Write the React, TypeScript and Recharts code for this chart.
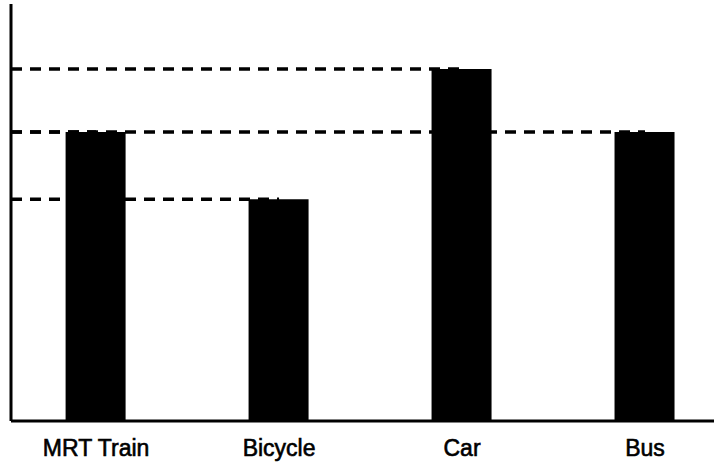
import React from 'react';
import { BarChart, Bar, XAxis, YAxis, ReferenceLine } from 'recharts';

const modes = ['MRT Train', 'Bicycle', 'Car', 'Bus'];
const shares = [69.3, 53.2, 84.4, 69.3];
const positions = [1, 2, 3, 4];
const xDomain: [number, number] = [0.535, 4.377];

const data = modes.map((name, i) => ({ name, pos: positions[i], value: shares[i] }));

export default function App() {
  return (
    <div style={{ position: 'absolute', left: 0, top: 0, width: 714, height: 465, background: '#fff', overflow: 'hidden' }}>
      <BarChart width={714} height={465} data={data} margin={{ top: 4, right: 0, left: 0, bottom: 0 }}>
        <XAxis
          dataKey="pos"
          type="number"
          domain={xDomain}
          ticks={positions}
          tickFormatter={(v: number) => modes[positions.indexOf(v)] ?? ''}
          height={44}
          tickLine={false}
          tickMargin={13}
          axisLine={{ stroke: '#000', strokeWidth: 3 }}
          tick={{ fontSize: 23, fill: '#000', stroke: '#000', strokeWidth: 0.6, fontFamily: 'Liberation Sans, Arial, sans-serif' }}
        />
        <YAxis domain={[0, 100]} width={11} tick={false} tickLine={false} axisLine={{ stroke: '#000', strokeWidth: 3 }} />
        {data.map(d => (
          <ReferenceLine
            key={d.name}
            segment={[{ x: xDomain[0], y: d.value }, { x: d.pos, y: d.value }]}
            stroke="#000"
            strokeWidth={3.5}
            strokeDasharray="11 8"
            ifOverflow="visible"
          />
        ))}
        <Bar dataKey="value" fill="#000" barSize={60} isAnimationActive={false} />
      </BarChart>
    </div>
  );
}
